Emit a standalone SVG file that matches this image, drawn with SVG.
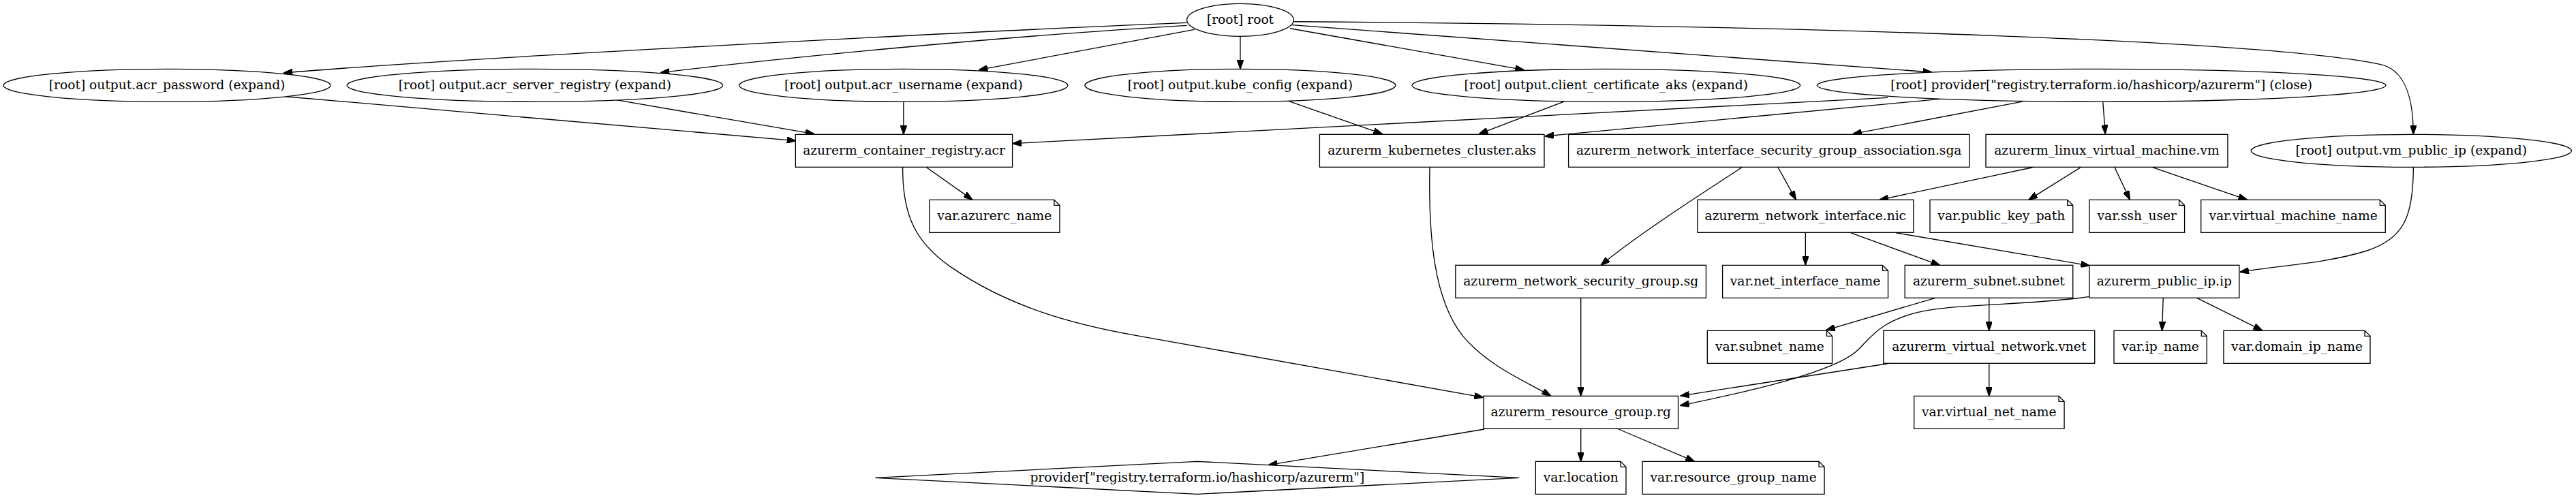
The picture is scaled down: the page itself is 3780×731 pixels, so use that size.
<svg xmlns="http://www.w3.org/2000/svg" width="3780" height="731" viewBox="0 0 3780 731">
<defs>
<marker id="ah" markerUnits="userSpaceOnUse" markerWidth="10" markerHeight="7" refX="10" refY="3.5" orient="auto" viewBox="0 0 10 7">
<path d="M0,0 L10,3.5 L0,7 z" fill="#000" stroke="#000" stroke-width="1"/>
</marker>
</defs>
<style>
.n ellipse,.n rect,.n path,.n polygon{fill:#fff;stroke:#000;stroke-width:1}
.n text{font-family:"DejaVu Serif","Liberation Serif",serif;font-size:14px;text-anchor:middle;fill:#000}
.e path{fill:none;stroke:#000;stroke-width:1;marker-end:url(#ah)}
</style>
<rect x="0" y="0" width="3780" height="731" fill="#fff"/>
<g transform="scale(1.333333)">
<g id="edges" class="e">
<path d="M1306.3,25 C1100,33 500,64 312,80.3"/>
<path d="M1306.3,28 C1100,40 850,65 726.8,80"/>
<path d="M1314.5,32.5 L1077,77"/>
<path d="M1365,40 L1365,76"/>
<path d="M1419.8,31.3 L1677.4,77"/>
<path d="M1422,27.5 L2126.3,79.5"/>
<path d="M1423.8,23.8 C2000,28 2500,45 2620,71 C2645,76.4 2656,105 2656,148"/>
<path d="M314.2,106.3 L876,155"/>
<path d="M678,110 L896.3,147.5"/>
<path d="M994.4,112 L994.4,148"/>
<path d="M2077.5,107.5 L1114.2,158"/>
<path d="M1417.5,111.1 L1521.5,147.5"/>
<path d="M1721.3,111.8 L1627.6,147.5"/>
<path d="M2135,109 L1700,150"/>
<path d="M2225.7,111.8 L2039,147.5"/>
<path d="M2314.3,111.8 L2317,147.5"/>
<path d="M2656,184.3 C2656,240 2645,262 2605,276 C2560,290 2510,292 2465,299.5"/>
<path d="M1019.7,184.3 L1070.3,220"/>
<path d="M993.5,184.3 C993,240 1010,268 1045,293 C1110,338 1180,357 1251,369.5 L1632.5,437.5"/>
<path d="M1573.5,184.3 C1572,260 1578,330 1610,370 C1640,405 1680,420 1706.8,436"/>
<path d="M1956.8,184.3 L1976.6,220"/>
<path d="M1917,184.3 C1870,215 1800,260 1761.8,292"/>
<path d="M2237,184.3 L2068.4,220"/>
<path d="M2289.8,184.3 L2232.5,220"/>
<path d="M2327.3,184.3 L2344.1,220"/>
<path d="M2369,184.3 L2473.4,220"/>
<path d="M1987,256 L1987,292"/>
<path d="M2036.7,256.3 L2135,292"/>
<path d="M2086.5,256.3 L2300,292.5"/>
<path d="M1739.8,328 L1739.8,436"/>
<path d="M2130,328 L2009.6,363.5"/>
<path d="M2189.1,328 L2189.1,364"/>
<path d="M2299.4,326.5 C2240,336 2150,334 2110,344 C2070,354 2060,370 2045,385 C2020,410 1920,432 1849,446.5"/>
<path d="M2380.7,328 L2379.4,364"/>
<path d="M2417.8,328 L2490,364"/>
<path d="M2077.5,400.3 L1849.2,435.8"/>
<path d="M2189.1,400 L2189.1,436"/>
<path d="M1633.5,472.5 L1395.8,512"/>
<path d="M1739.8,472 L1739.8,508"/>
<path d="M1781.3,472.5 L1865,508"/>
</g>
<g id="root" class="n"><ellipse cx="1365" cy="22" rx="58.8" ry="18"/><text x="1365" y="26">[root] root</text></g>
<g id="out_acr_password" class="n"><ellipse cx="183.8" cy="94" rx="180" ry="18"/><text x="183.8" y="98">[root] output.acr_password (expand)</text></g>
<g id="out_acr_server_registry" class="n"><ellipse cx="588.7" cy="94" rx="206.8" ry="18"/><text x="588.7" y="98">[root] output.acr_server_registry (expand)</text></g>
<g id="out_acr_username" class="n"><ellipse cx="994.4" cy="94" rx="180.8" ry="18"/><text x="994.4" y="98">[root] output.acr_username (expand)</text></g>
<g id="out_kube_config" class="n"><ellipse cx="1364.9" cy="94" rx="171" ry="18"/><text x="1364.9" y="98">[root] output.kube_config (expand)</text></g>
<g id="out_client_certificate_aks" class="n"><ellipse cx="1767.6" cy="94" rx="213.6" ry="18"/><text x="1767.6" y="98">[root] output.client_certificate_aks (expand)</text></g>
<g id="provider_close" class="n"><ellipse cx="2312.7" cy="94" rx="313" ry="18"/><text x="2312.7" y="98">[root] provider["registry.terraform.io/hashicorp/azurerm"] (close)</text></g>
<g id="acr" class="n"><rect x="875.5" y="148" width="238.7" height="36"/><text x="994.9" y="170">azurerm_container_registry.acr</text></g>
<g id="aks" class="n"><rect x="1452.3" y="148" width="247.2" height="36"/><text x="1575.9" y="170">azurerm_kubernetes_cluster.aks</text></g>
<g id="sga" class="n"><rect x="1726.2" y="148" width="441.2" height="36"/><text x="1946.8" y="170">azurerm_network_interface_security_group_association.sga</text></g>
<g id="vm" class="n"><rect x="2185.5" y="148" width="266.2" height="36"/><text x="2318.6" y="170">azurerm_linux_virtual_machine.vm</text></g>
<g id="out_vm_public_ip" class="n"><ellipse cx="2653.7" cy="166" rx="176.3" ry="18"/><text x="2653.7" y="170">[root] output.vm_public_ip (expand)</text></g>
<g id="var_azurerc_name" class="n"><path d="M1160.2,220 H1022.9 V256 H1166.2 V226 Z M1160.2,220 V226 H1166.2"/><text x="1094.5" y="242">var.azurerc_name</text></g>
<g id="nic" class="n"><rect x="1868.2" y="220" width="237.7" height="36"/><text x="1987" y="242">azurerm_network_interface.nic</text></g>
<g id="var_public_key_path" class="n"><path d="M2275.3,220 H2124 V256 H2281.3 V226 Z M2275.3,220 V226 H2281.3"/><text x="2202.6" y="242">var.public_key_path</text></g>
<g id="var_ssh_user" class="n"><path d="M2398.2,220 H2299.4 V256 H2404.2 V226 Z M2398.2,220 V226 H2404.2"/><text x="2351.8" y="242">var.ssh_user</text></g>
<g id="var_virtual_machine_name" class="n"><path d="M2619.2,220 H2422.3 V256 H2625.2 V226 Z M2619.2,220 V226 H2625.2"/><text x="2523.8" y="242">var.virtual_machine_name</text></g>
<g id="sg" class="n"><rect x="1601.9" y="292" width="275.7" height="36"/><text x="1739.8" y="314">azurerm_network_security_group.sg</text></g>
<g id="var_net_interface_name" class="n"><path d="M2071.9,292 H1895.7 V328 H2077.9 V298 Z M2071.9,292 V298 H2077.9"/><text x="1986.8" y="314">var.net_interface_name</text></g>
<g id="subnet" class="n"><rect x="2096.4" y="292" width="184.9" height="36"/><text x="2188.8" y="314">azurerm_subnet.subnet</text></g>
<g id="ip" class="n"><rect x="2299.4" y="292" width="165" height="36"/><text x="2381.9" y="314">azurerm_public_ip.ip</text></g>
<g id="var_subnet_name" class="n"><path d="M2010.4,364 H1879 V400 H2016.4 V370 Z M2010.4,364 V370 H2016.4"/><text x="1947.7" y="386">var.subnet_name</text></g>
<g id="vnet" class="n"><rect x="2072.9" y="364" width="232.4" height="36"/><text x="2189.1" y="386">azurerm_virtual_network.vnet</text></g>
<g id="var_ip_name" class="n"><path d="M2422.7,364 H2326.5 V400 H2428.7 V370 Z M2422.7,364 V370 H2428.7"/><text x="2377.6" y="386">var.ip_name</text></g>
<g id="var_domain_ip_name" class="n"><path d="M2602.5,364 H2447.2 V400 H2608.5 V370 Z M2602.5,364 V370 H2608.5"/><text x="2527.9" y="386">var.domain_ip_name</text></g>
<g id="rg" class="n"><rect x="1632.7" y="436" width="214.2" height="36"/><text x="1739.8" y="458">azurerm_resource_group.rg</text></g>
<g id="var_virtual_net_name" class="n"><path d="M2265.8,436 H2106.5 V472 H2271.8 V442 Z M2265.8,436 V442 H2271.8"/><text x="2189.1" y="458">var.virtual_net_name</text></g>
<g id="provider" class="n"><polygon points="1317.6,508 1672,526 1317.6,544 963.2,526"/><text x="1317.6" y="530">provider["registry.terraform.io/hashicorp/azurerm"]</text></g>
<g id="var_location" class="n"><path d="M1783.5,508 H1690 V544 H1789.5 V514 Z M1783.5,508 V514 H1789.5"/><text x="1739.8" y="530">var.location</text></g>
<g id="var_resource_group_name" class="n"><path d="M2001.8,508 H1807.6 V544 H2007.8 V514 Z M2001.8,508 V514 H2007.8"/><text x="1907.7" y="530">var.resource_group_name</text></g>
</g>
</svg>
